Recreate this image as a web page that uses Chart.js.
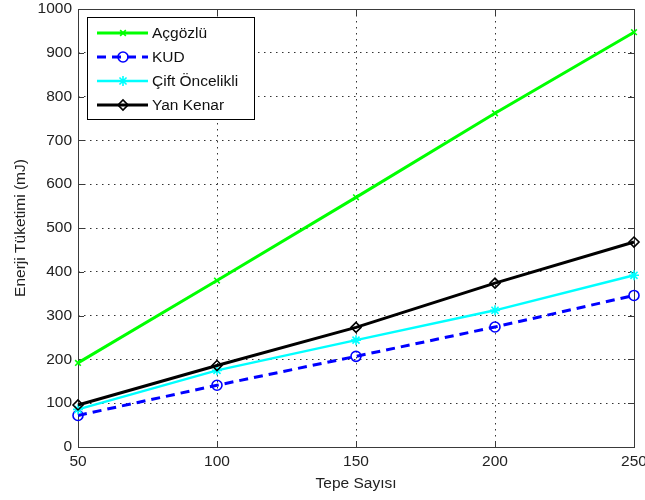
<!DOCTYPE html>
<html>
<head>
<meta charset="utf-8">
<script src="https://cdn.jsdelivr.net/npm/chart.js@4/dist/chart.umd.min.js"></script>
<style>
  html, body { margin: 0; padding: 0; background: #fff; }
  #wrap { width: 645px; height: 500px; }
</style>
</head>
<body>
<div id="wrap"><canvas id="enerji" width="645" height="500"></canvas></div>
<script>
const tepeSayisi = [50, 100, 150, 200, 250];
const acgozlu = [192, 380, 570, 762, 947];
const kud = [72, 141, 207, 274, 346];
const ciftOncelikli = [86, 175, 244, 312, 392];
const yanKenar = [96, 186, 273, 374, 468];
const seriAdlari = ['Açgözlü', 'KUD', 'Çift Öncelikli', 'Yan Kenar'];

const FONT = "'Liberation Sans', Arial, Helvetica, sans-serif";
const YAZI = 15.5;

function noktalar(values) {
  return tepeSayisi.map((x, i) => ({ x: x, y: values[i] }));
}

// inward ticks on all four sides + the closed axes box
const kutuPlugin = {
  id: 'kutu',
  beforeDatasetsDraw(chart) {
    const { ctx, chartArea: a, scales } = chart;
    const len = 6;
    ctx.save();
    ctx.strokeStyle = '#3a3a3a';
    ctx.lineWidth = 1;
    ctx.beginPath();
    scales.x.ticks.forEach(t => {
      const px = Math.round(scales.x.getPixelForValue(t.value)) + 0.5;
      ctx.moveTo(px, a.bottom); ctx.lineTo(px, a.bottom - len);
      ctx.moveTo(px, a.top); ctx.lineTo(px, a.top + len);
    });
    scales.y.ticks.forEach(t => {
      const py = Math.round(scales.y.getPixelForValue(t.value)) + 0.5;
      ctx.moveTo(a.left, py); ctx.lineTo(a.left + len, py);
      ctx.moveTo(a.right, py); ctx.lineTo(a.right - len, py);
    });
    ctx.stroke();
    ctx.strokeRect(Math.round(a.left) + 0.5, Math.round(a.top) + 0.5,
      Math.round(a.right - a.left), Math.round(a.bottom - a.top));
    ctx.restore();
  }
};

// legend box in the upper-left corner, line sample with its marker
const lejantPlugin = {
  id: 'lejant',
  afterDraw(chart) {
    const { ctx, chartArea: a } = chart;
    const x0 = a.left + 9, y0 = a.top + 8, w = 167, h = 102;
    ctx.save();
    ctx.fillStyle = '#fff';
    ctx.fillRect(x0, y0, w, h);
    ctx.strokeStyle = '#000';
    ctx.lineWidth = 1;
    ctx.strokeRect(x0 + 0.5, y0 + 0.5, w, h);
    const sirali = [...chart.data.datasets].sort((p, q) => p.sira - q.sira);
    sirali.forEach((ds, i) => {
      const yy = y0 + 16 + i * 24;
      ctx.strokeStyle = ds.borderColor;
      ctx.lineWidth = ds.borderWidth;
      ctx.setLineDash(ds.borderDash || []);
      ctx.beginPath();
      ctx.moveTo(x0 + 10, yy);
      ctx.lineTo(x0 + 61, yy);
      ctx.stroke();
      ctx.setLineDash([]);
      ctx.strokeStyle = ds.pointBorderColor;
      ctx.fillStyle = 'rgba(0,0,0,0)';
      ctx.lineWidth = ds.pointBorderWidth;
      Chart.helpers.drawPoint(ctx, {
        pointStyle: ds.pointStyle, radius: ds.pointRadius,
        borderWidth: ds.pointBorderWidth, rotation: 0
      }, x0 + 36, yy);
      ctx.fillStyle = '#111';
      ctx.font = YAZI + 'px ' + FONT;
      ctx.textBaseline = 'middle';
      ctx.textAlign = 'left';
      ctx.fillText(ds.label, x0 + 65, yy + 1);
    });
    ctx.restore();
  }
};

const seri = (label, values, color, style, radius, sira, extra) => Object.assign({
  label: label,
  data: noktalar(values),
  borderColor: color,
  borderWidth: 3,
  pointStyle: style,
  pointRadius: radius,
  pointBorderColor: color,
  pointBackgroundColor: 'rgba(0,0,0,0)',
  pointBorderWidth: 1.6,
  pointHoverRadius: radius,
  tension: 0,
  clip: false,
  order: 3 - sira,
  sira: sira
}, extra || {});

const ctx = document.getElementById('enerji').getContext('2d');
const chart = new Chart(ctx, {
  type: 'line',
  data: {
    datasets: [
      seri(seriAdlari[0], acgozlu, '#00ff00', 'crossRot', 4, 0),
      seri(seriAdlari[1], kud, '#0000ff', 'circle', 5, 1, { borderDash: [9, 6] }),
      seri(seriAdlari[2], ciftOncelikli, '#00ffff', 'star', 5, 2, { borderWidth: 2.5 }),
      seri(seriAdlari[3], yanKenar, '#000000', 'rectRot', 5, 3)
    ]
  },
  options: {
    responsive: false,
    animation: false,
    layout: { padding: { top: 9, right: 11, left: 0, bottom: 7 } },
    plugins: {
      legend: { display: false },
      tooltip: { enabled: false }
    },
    scales: {
      x: {
        type: 'linear',
        min: 50,
        max: 250,
        ticks: { stepSize: 50, color: '#222', font: { family: FONT, size: YAZI }, padding: 5, maxRotation: 0,
          callback: v => String(v) },
        grid: { color: '#333', lineWidth: 1, drawTicks: false },
        border: { display: false, dash: [1.5, 4.5] },
        title: { display: true, text: 'Tepe Sayısı', color: '#222', font: { family: FONT, size: YAZI }, padding: { top: 0, bottom: 0 } },
        afterFit(s) { s.height = 46; s.paddingLeft = 0; s.paddingRight = 0; }
      },
      y: {
        min: 0,
        max: 1000,
        ticks: { stepSize: 100, color: '#222', font: { family: FONT, size: YAZI }, padding: 6,
          callback: v => String(v) },
        grid: { color: '#333', lineWidth: 1, drawTicks: false },
        border: { display: false, dash: [1.5, 4.5] },
        title: { display: true, text: 'Enerji Tüketimi (mJ)', color: '#222', font: { family: FONT, size: YAZI }, padding: { top: 11, bottom: 0 } },
        afterFit(s) { s.width = 78; s.paddingTop = 0; s.paddingBottom = 0; }
      }
    }
  },
  plugins: [kutuPlugin, lejantPlugin]
});
</script>
</body>
</html>
